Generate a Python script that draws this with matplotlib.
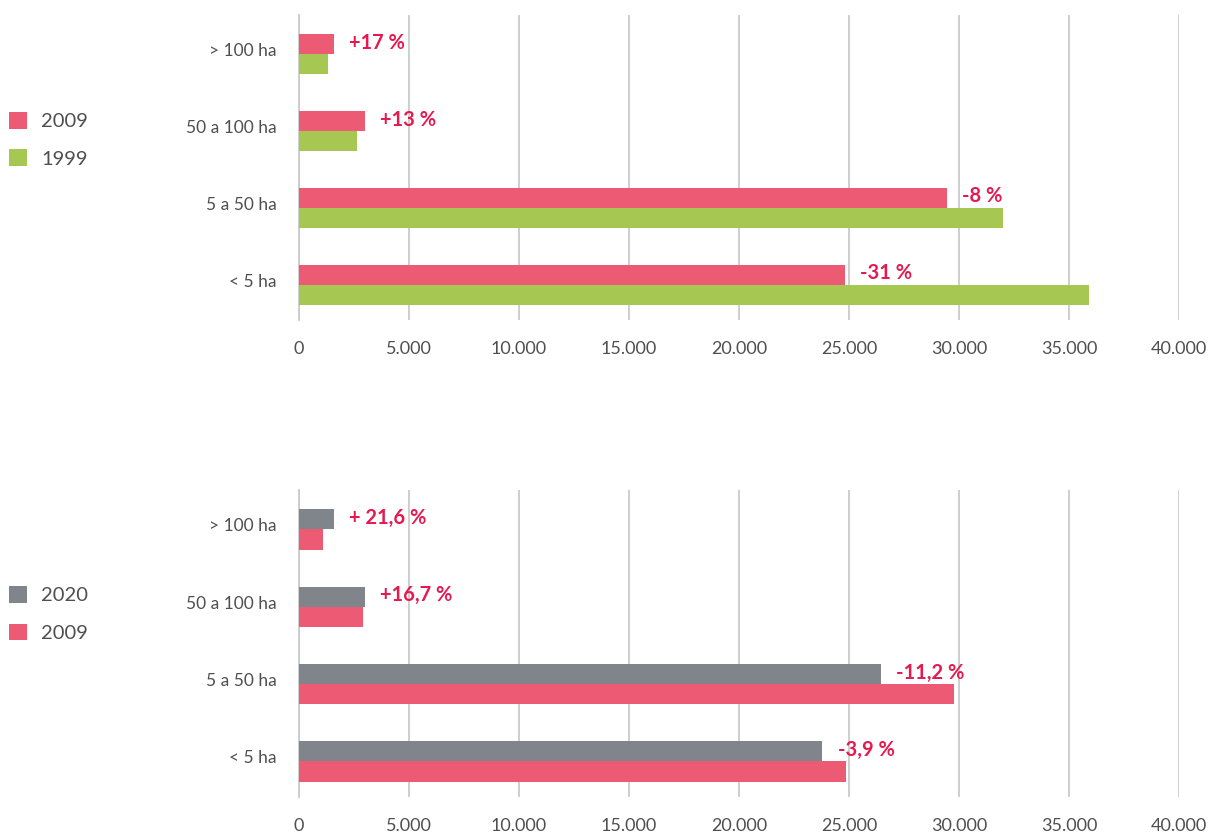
import matplotlib
matplotlib.use("Agg")
import matplotlib.pyplot as plt
from matplotlib.patches import Patch
import numpy as np

plt.rcParams['font.family'] = ['Lato', 'DejaVu Sans']

categories = ["> 100 ha", "50 a 100 ha", "5 a 50 ha", "< 5 ha"]

# Top panel: 2009 vs 1999
top_series_names = ["2009", "1999"]
top_2009 = [1590, 3000, 29450, 24800]
top_1999 = [1330, 2640, 31990, 35920]
top_labels = ["+17 %", "+13 %", "-8 %", "-31 %"]

# Bottom panel: 2020 vs 2009
bot_series_names = ["2020", "2009"]
bot_2020 = [1590, 3000, 26440, 23790]
bot_2009 = [1075, 2895, 29760, 24850]
bot_labels = ["+ 21,6 %", "+16,7 %", "-11,2 %", "-3,9 %"]

xticks = [0, 5000, 10000, 15000, 20000, 25000, 30000, 35000, 40000]
xtick_labels = ["0", "5.000", "10.000", "15.000", "20.000", "25.000", "30.000", "35.000", "40.000"]

PINK = "#EC5B73"
GREEN = "#A6C853"
GRAY = "#80848B"
ANN = "#E5194F"
GRID = "#CACACA"
TXT = "#4F4F4F"

W, H = 1210, 832
fig = plt.figure(figsize=(W / 100, H / 100), dpi=100)

def make_panel(rect, s1, s2, c1, c2, names, labels, legend_y):
    ax = fig.add_axes(rect)
    y = np.arange(len(categories))
    h = 0.26
    ax.barh(y - h / 2, s1, height=h, color=c1, zorder=3)
    ax.barh(y + h / 2, s2, height=h, color=c2, zorder=3)
    ax.set_xlim(0, 40000)
    ax.set_ylim(len(categories) - 1 + 0.46, -0.51)
    ax.set_xticks(xticks)
    ax.set_xticklabels(xtick_labels, fontsize=13, color=TXT)
    ax.set_yticks(y - 0.06)
    ax.set_yticklabels(categories, fontsize=12.5, color=TXT)
    ax.tick_params(axis='both', length=0)
    ax.tick_params(axis='x', pad=15)
    ax.tick_params(axis='y', pad=16)
    for s in ["top", "right", "bottom"]:
        ax.spines[s].set_visible(False)
    ax.spines["left"].set_color(GRID)
    ax.spines["left"].set_linewidth(1.3)
    ax.grid(axis='x', color=GRID, linewidth=1.3, zorder=0)
    ax.grid(axis='y', visible=False)
    ax.set_axisbelow(True)
    for yi, v, lab in zip(y, s1, labels):
        ax.annotate(lab, xy=(v, yi - h / 2), xytext=(11, 1), textcoords='offset points',
                    ha='left', va='center', fontsize=14.5, fontweight='bold', color=ANN,
                    zorder=4)
    handles = [Patch(facecolor=c1, edgecolor='none'), Patch(facecolor=c2, edgecolor='none')]
    fig.legend(handles, names, loc='upper left', bbox_to_anchor=(0.0, legend_y),
               frameon=False, fontsize=14.5, handlelength=0.9, handleheight=0.9,
               handletextpad=0.7, labelspacing=0.95, borderaxespad=0.0,
               labelcolor=TXT, borderpad=0.45)
    return ax

left = 299 / W
width = (1179 - 299) / W
ax1 = make_panel([left, 1 - 320 / H, width, (320 - 15) / H], top_2009, top_1999, PINK, GREEN,
                 top_series_names, top_labels, 1 - 103 / H)
ax2 = make_panel([left, 1 - 797 / H, width, (797 - 490) / H], bot_2020, bot_2009, GRAY, PINK,
                 bot_series_names, bot_labels, 1 - 577 / H)

fig.savefig("out.png", dpi=100, facecolor="white")
